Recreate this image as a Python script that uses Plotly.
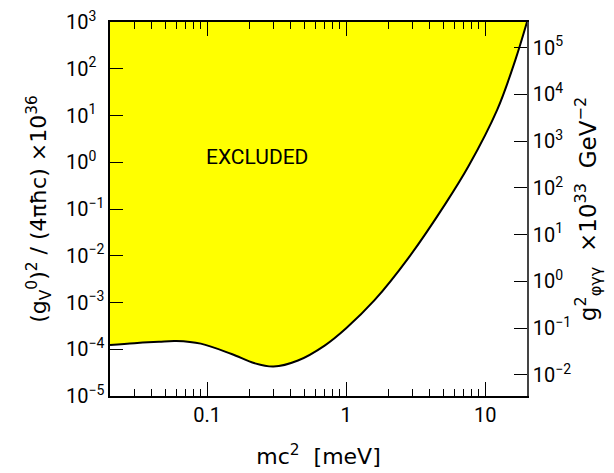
import plotly.graph_objects as go

# Data (mass in meV, coupling in left-axis units)
mass = [0.02, 0.03, 0.045, 0.06, 0.09, 0.15, 0.22, 0.3, 0.45, 0.7, 1.0, 1.6, 2.8, 5.2, 7.6, 12.2, 16.5, 20.0]
coupling = [1.23e-4, 1.35e-4, 1.45e-4, 1.5e-4, 1.32e-4, 7.9e-5, 5.0e-5, 4.27e-5, 5.75e-5, 1.2e-4,
            2.82e-4, 1.12e-3, 8.9e-3, 1.32e-1, 8.3e-1, 1.32e1, 1.55e2, 1.0e3]

x_range = [0.02, 20.0]
y_top = 1e3
left_exps = [3, 2, 1, 0, -1, -2, -3, -4, -5]
right_exps = [5, 4, 3, 2, 1, 0, -1, -2]
right_offset = 2.55  # log10 ratio right/left scale
x_major = [0.1, 1, 10]
x_major_text = ["0.1", "1", "10"]
x_minor = [0.03, 0.04, 0.05, 0.06, 0.07, 0.08, 0.09,
           0.2, 0.3, 0.4, 0.5, 0.6, 0.7, 0.8, 0.9,
           2, 3, 4, 5, 6, 7, 8, 9]


def pw(e, pad=False):
    s = str(e).replace("-", "\u2212")
    if pad and e >= 0:
        s = s + "\u2007"
    return f"10<sup>{s}</sup>"


FONT = "Roboto, Arial"
TFONT = "DejaVu Sans, Arial"
NB = "\u00a0"
LOGX = [-1.699, 1.301]

fig = go.Figure()
fig.add_trace(go.Scatter(x=x_range, y=[y_top, y_top], mode="lines",
                         line=dict(width=0), hoverinfo="skip", showlegend=False))
fig.add_trace(go.Scatter(x=mass, y=coupling, mode="lines",
                         line=dict(color="black", width=2, shape="spline", smoothing=1.0),
                         fill="tonexty", fillcolor="#FFFF00", showlegend=False))
fig.add_trace(go.Scatter(x=x_range, y=[10 ** (-5 + right_offset), 10 ** (3 + right_offset)],
                         mode="lines", line=dict(width=0), xaxis="x2", yaxis="y2",
                         hoverinfo="skip", showlegend=False))

fig.add_annotation(x=-0.64, y=0.11, xref="x", yref="y", text="EXCLUDED",
                   showarrow=False, font=dict(family=FONT, size=21, color="black"))

tick_common = dict(tickwidth=1.3, tickcolor="black")

# page body has an 8px margin: shift figure margins to compensate
fig.update_layout(
    width=614, height=473,
    margin=dict(l=102, r=95, t=14, b=85, autoexpand=False),
    plot_bgcolor="white", paper_bgcolor="white",
    font=dict(family=FONT, size=20, color="black"),
    xaxis=dict(type="log", range=LOGX, showgrid=False, zeroline=False, automargin=False,
               showline=True, linecolor="black", linewidth=1.5, mirror=True,
               ticks="inside", ticklen=14, **tick_common,
               tickvals=x_major, ticktext=x_major_text,
               minor=dict(ticks="inside", ticklen=7, tickvals=x_minor, showgrid=False, **tick_common),
               title=dict(text="mc<sup>2</sup>" + NB + " [meV]", font=dict(family=TFONT, size=22),
                          standoff=23)),
    xaxis2=dict(type="log", range=LOGX, overlaying="x", side="top", anchor="y",
                showgrid=False, zeroline=False, automargin=False, showline=False,
                ticks="inside", ticklen=14, **tick_common,
                tickvals=x_major, showticklabels=False,
                minor=dict(ticks="inside", ticklen=7, tickvals=x_minor, showgrid=False, **tick_common)),
    yaxis=dict(type="log", range=[-5, 3], showgrid=False, zeroline=False, automargin=False,
               showline=True, linecolor="black", linewidth=1.5,
               ticks="inside", ticklen=13, **tick_common, ticklabeloverflow="allow",
               tickvals=[10 ** e for e in left_exps], ticktext=[pw(e, True) for e in left_exps],
               title=dict(text="(g<sub>V</sub><sup>0</sup>)<sup>2</sup> / (4πħc) ×10<sup>36</sup>",
                          font=dict(family=TFONT, size=22), standoff=13)),
    yaxis2=dict(type="log", range=[-5 + right_offset, 3 + right_offset], overlaying="y",
                side="right", anchor="x", showgrid=False, zeroline=False, automargin=False,
                showline=True, linecolor="#444", linewidth=1.5,
                ticks="inside", ticklen=13, **tick_common, ticklabeloverflow="allow",
                tickvals=[10 ** e for e in right_exps], ticktext=[pw(e) for e in right_exps],
                title=dict(text="g<sup>2</sup><sub>φγγ</sub> " + NB + "×10<sup>33</sup> " + NB + "GeV<sup>\u22122</sup>",
                           font=dict(family=TFONT, size=23), standoff=4)),
)

fig.write_html("out.html")
